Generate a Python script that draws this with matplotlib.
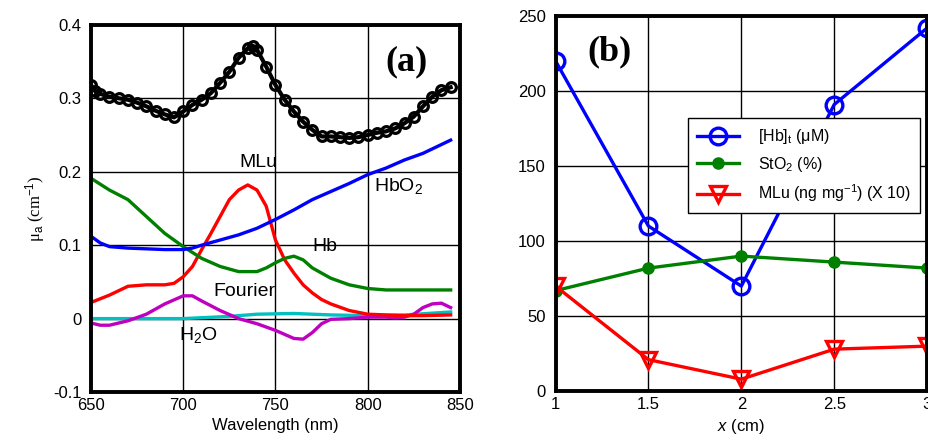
import matplotlib
matplotlib.use("Agg")
import matplotlib.pyplot as plt
import numpy as np

plt.rcParams['font.family'] = ['Liberation Sans', 'DejaVu Sans']
plt.rcParams['mathtext.fontset'] = 'custom'
plt.rcParams['mathtext.rm'] = 'Liberation Sans'
plt.rcParams['mathtext.it'] = 'Liberation Sans:italic'

# panel (a): absorption spectra
wl_total = [650, 652, 655, 660, 665, 670, 675, 680, 685, 690, 695, 700, 705, 710, 715, 720, 725,
            730, 735, 738, 740, 745, 750, 755, 760, 765, 770, 775, 780, 785, 790, 795, 800,
            805, 810, 815, 820, 825, 830, 835, 840, 845]
mua_total = [0.318, 0.31, 0.306, 0.302, 0.300, 0.298, 0.294, 0.289, 0.283, 0.278, 0.274, 0.282,
             0.291, 0.298, 0.307, 0.321, 0.336, 0.355, 0.368, 0.371, 0.366, 0.343, 0.318, 0.298,
             0.282, 0.268, 0.257, 0.248, 0.248, 0.247, 0.246, 0.247, 0.250, 0.253, 0.255, 0.259,
             0.266, 0.275, 0.289, 0.302, 0.311, 0.315]

wl_hbo2 = [650, 655, 660, 670, 680, 690, 700, 705, 710, 720, 730, 740, 750, 760, 770, 780, 790,
           800, 810, 820, 830, 840, 845]
mua_hbo2 = [0.112, 0.103, 0.098, 0.096, 0.095, 0.094, 0.094, 0.096, 0.100, 0.107, 0.114, 0.123,
            0.135, 0.148, 0.162, 0.173, 0.184, 0.196, 0.205, 0.216, 0.225, 0.237, 0.243]

wl_hb = [650, 660, 670, 680, 690, 700, 710, 720, 730, 740, 745, 750, 755, 760, 765, 770, 780,
         790, 800, 810, 820, 830, 845]
mua_hb = [0.191, 0.175, 0.162, 0.139, 0.116, 0.098, 0.082, 0.071, 0.064, 0.064, 0.069, 0.076,
          0.082, 0.085, 0.080, 0.069, 0.055, 0.046, 0.041, 0.039, 0.039, 0.039, 0.039]

wl_mlu = [650, 660, 670, 680, 690, 695, 700, 705, 710, 715, 720, 725, 730, 735, 740, 745, 750,
          755, 760, 765, 770, 775, 780, 790, 800, 810, 820, 830, 845]
mua_mlu = [0.022, 0.032, 0.044, 0.046, 0.046, 0.048, 0.057, 0.071, 0.094, 0.116, 0.139, 0.162,
           0.175, 0.182, 0.175, 0.153, 0.107, 0.080, 0.062, 0.046, 0.035, 0.026, 0.020, 0.011,
           0.006, 0.005, 0.004, 0.004, 0.005]

wl_fourier = [650, 655, 660, 670, 680, 690, 700, 705, 710, 720, 730, 740, 750, 760, 765, 770,
              775, 780, 790, 800, 810, 815, 820, 825, 830, 835, 840, 845]
mua_fourier = [-0.006, -0.009, -0.009, -0.003, 0.006, 0.020, 0.031, 0.031, 0.024, 0.011, 0.000,
               -0.007, -0.016, -0.027, -0.028, -0.019, -0.007, -0.001, 0.000, 0.002, 0.002,
               0.001, 0.002, 0.006, 0.015, 0.020, 0.021, 0.015]

wl_h2o = [650, 700, 725, 740, 760, 780, 800, 820, 845]
mua_h2o = [0.000, 0.000, 0.003, 0.006, 0.007, 0.005, 0.004, 0.005, 0.009]

# panel (b): recovered parameters vs position
x_cm = [1, 1.5, 2, 2.5, 3]
hb_total = [220, 110, 70, 191, 242]
sto2 = [67, 82, 90, 86, 82]
mlu_x10 = [70, 21, 8, 28, 30]

fig = plt.figure(figsize=(9.29, 4.43), dpi=100)
ax1 = fig.add_axes([0.098, 0.115, 0.397, 0.829])
ax2 = fig.add_axes([0.598, 0.117, 0.400, 0.847])

fs = 12

# ---- (a)
ax1.plot(wl_h2o, mua_h2o, color='#00c0c0', lw=2.4)
ax1.plot(wl_fourier, mua_fourier, color='#c000c0', lw=2.4)
ax1.plot(wl_mlu, mua_mlu, color='red', lw=2.4)
ax1.plot(wl_hb, mua_hb, color='#008000', lw=2.4)
ax1.plot(wl_hbo2, mua_hbo2, color='blue', lw=2.4)
ax1.plot(wl_total, mua_total, color='black', lw=3, marker='o', ms=7, mfc='none', mew=2.3)

ax1.set_xlim(650, 850)
ax1.set_ylim(-0.1, 0.4)
ax1.set_xticks([650, 700, 750, 800, 850])
ax1.set_yticks([-0.1, 0, 0.1, 0.2, 0.3, 0.4])
ax1.set_yticklabels(['-0.1', '0', '0.1', '0.2', '0.3', '0.4'])
ax1.set_xlabel('Wavelength (nm)', fontsize=fs, labelpad=4)
ax1.set_ylabel(r'μ$_{\rm a}$ (cm$^{-1}$)', fontsize=fs, family='Liberation Serif', labelpad=4)

lab_fs = 14
ax1.text(741, 0.212, 'MLu', fontsize=lab_fs, ha='center', va='center')
ax1.text(817, 0.180, r'HbO$_2$', fontsize=lab_fs, ha='center', va='center')
ax1.text(777, 0.098, 'Hb', fontsize=lab_fs, ha='center', va='center')
ax1.text(733, 0.037, 'Fourier', fontsize=lab_fs, ha='center', va='center')
ax1.text(708, -0.022, r'H$_2$O', fontsize=lab_fs, ha='center', va='center')
ax1.text(821, 0.350, '(a)', fontsize=26, fontweight='bold', family='Liberation Serif',
         ha='center', va='center')

# ---- (b)
ax2.plot(x_cm, hb_total, color='blue', lw=2.4, marker='o', ms=12, mfc='none', mew=2.4,
         label=r'[Hb]$_{\rm t}$ (μM)')
ax2.plot(x_cm, sto2, color='#008000', lw=2.4, marker='o', ms=8, mew=1,
         label=r'StO$_2$ (%)')
ax2.plot(x_cm, mlu_x10, color='red', lw=2.4, marker='v', ms=12, mfc='none', mew=2.4,
         label=r'MLu (ng mg$^{-1}$) (X 10)')

ax2.set_xlim(1, 3)
ax2.set_ylim(0, 250)
ax2.set_xticks([1, 1.5, 2, 2.5, 3])
ax2.set_xticklabels(['1', '1.5', '2', '2.5', '3'])
ax2.set_yticks([0, 50, 100, 150, 200, 250])
ax2.set_xlabel(r'$\it{x}$ (cm)', fontsize=fs, labelpad=4)
ax2.text(1.29, 226, '(b)', fontsize=26, fontweight='bold', family='Liberation Serif',
         ha='center', va='center')

leg = ax2.legend(loc='upper left', bbox_to_anchor=(0.357, 0.727), fontsize=11.5,
                 frameon=True, fancybox=False, framealpha=1, edgecolor='black',
                 borderpad=0.55, labelspacing=0.55, handlelength=2.6, handletextpad=1.2,
                 borderaxespad=0)
leg.get_frame().set_linewidth(1.0)

for ax in (ax1, ax2):
    ax.grid(True, color='black', lw=1.0)
    ax.set_axisbelow(True)
    for s in ax.spines.values():
        s.set_linewidth(2.8)
    ax.tick_params(axis='x', direction='in', length=0, labelsize=fs, pad=4)
    ax.tick_params(axis='y', direction='in', length=0, labelsize=fs, pad=7)

fig.savefig('out.png', dpi=100)
